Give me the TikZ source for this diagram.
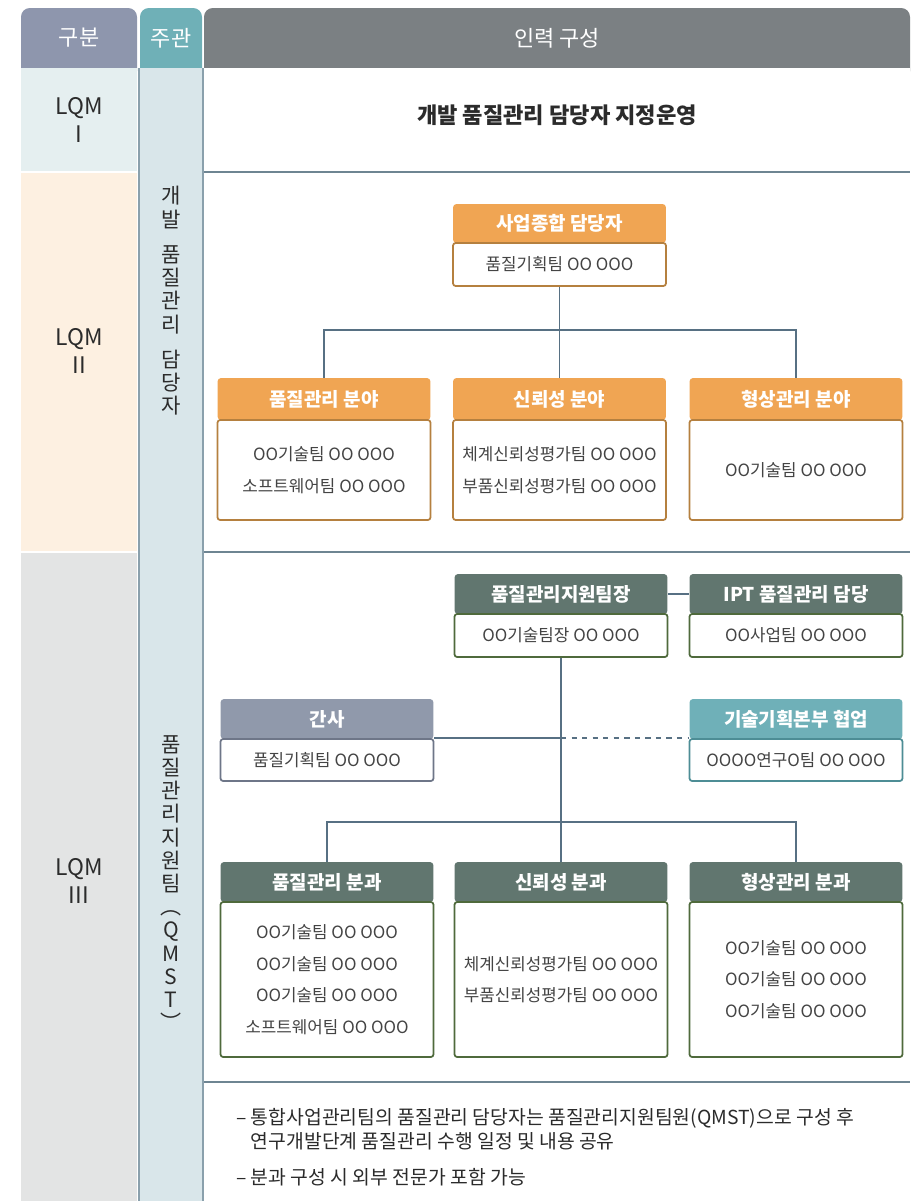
\documentclass[tikz,border=0pt]{standalone}
\usepackage{fontspec}
\setmainfont{Noto Sans CJK KR}
\usetikzlibrary{positioning}

\definecolor{hdslate}{HTML}{8E96AD}
\definecolor{hdteal}{HTML}{6FB0B7}
\definecolor{hdgray}{HTML}{7B8083}
\definecolor{rowone}{HTML}{E5EFF0}
\definecolor{rowtwo}{HTML}{FDF0E1}
\definecolor{rowthree}{HTML}{E3E4E4}
\definecolor{colmid}{HTML}{D9E6EA}
\definecolor{colline}{HTML}{8AA0AC}
\definecolor{rowline}{HTML}{6E8592}
\definecolor{lineblue}{HTML}{577083}
\definecolor{orangefill}{HTML}{F0A553}
\definecolor{orangeline}{HTML}{B5803F}
\definecolor{greenfill}{HTML}{61766F}
\definecolor{greenline}{HTML}{4F6A3C}
\definecolor{slatefill}{HTML}{9099AB}
\definecolor{slateline}{HTML}{6E7688}
\definecolor{tealfill}{HTML}{6FB0B8}
\definecolor{tealline}{HTML}{4D8D95}
\definecolor{bodytxt}{HTML}{444444}
\definecolor{darktxt}{HTML}{2B2B2B}

\tikzset{
  conn/.style={draw=lineblue, line width=0.9pt},
  orghead/.style={minimum width=4.26cm, inner sep=0pt, text=white,
    font=\fontsize{10.8}{12}\selectfont\bfseries, rounded corners=2pt},
  orgbody/.style={fill=white, minimum width=4.26cm, inner sep=0pt, line width=1pt,
    text=bodytxt, align=center, font=\fontsize{9.6}{18}\selectfont, rounded corners=1.5pt},
  tablehead/.style={text=white, font=\fontsize{12.5}{14}\selectfont},
  rowlabel/.style={text=darktxt, align=center, font=\fontsize{13}{16}\selectfont},
  stacktext/.style={text=darktxt, align=center, font=\fontsize{12}{13.2}\selectfont},
}

\begin{document}
\begin{tikzpicture}[x=0.02cm,y=-0.02cm]
\useasboundingbox (0,0) rectangle (918,1201);

% table header
\fill[hdslate,rounded corners=5pt] (21,8) rectangle (137,80);
\fill[hdteal,rounded corners=5pt] (140,8) rectangle (202,80);
\fill[hdgray,rounded corners=5pt] (204,8) rectangle (910,80);
\node[tablehead](head class) at (79,38) {구분};
\node[tablehead](head owner) at (171,38) {주관};
\node[tablehead](head staff) at (557,38) {인력 구성};

% rows
\fill[rowone] (21,68) rectangle (137,171);
\fill[rowtwo] (21,173) rectangle (137,551);
\fill[rowthree] (21,553) rectangle (137,1201);
\fill[colmid] (139,68) rectangle (203,1201);
\fill[white] (204,68) rectangle (910,1201);
\draw[colline,line width=0.9pt] (139,68) -- (139,1201);
\draw[colline,line width=0.9pt] (203,68) -- (203,1201);
\draw[rowline,line width=0.8pt] (204,172) -- (910,172);
\draw[rowline,line width=0.8pt] (204,552) -- (910,552);
\draw[rowline,line width=0.8pt] (204,1082) -- (910,1082);

\node[rowlabel](lqm one) at (79,120) {LQM\\I};
\node[rowlabel](lqm two) at (79,351) {LQM\\II};
\node[rowlabel](lqm three) at (79,881) {LQM\\III};

\node[stacktext](owner dev) at (171,301) {개\\발\\[7pt]품\\질\\관\\리\\[7pt]담\\당\\자};
\node[stacktext](owner qmst) at (171,883) {품\\질\\관\\리\\지\\원\\팀\\︵\\Q\\M\\S\\T\\︶};

% LQM I
\node[text=darktxt,font=\fontsize{12.6}{14}\selectfont\bfseries](dev title) at (557,115) {개발 품질관리 담당자 지정운영};

% LQM II
\node[orghead,fill=orangefill,minimum height=0.78cm](biz head) at (559.5,223.5) {사업종합 담당자};
\node[orgbody,draw=orangeline,minimum height=0.86cm](biz body) at (559.5,264.5) {품질기획팀 OO OOO};

\node[orghead,fill=orangefill,minimum height=0.84cm](qa head) at (324,399) {품질관리 분야};
\node[orgbody,draw=orangeline,minimum height=2cm](qa body) at (324,470) {OO기술팀 OO OOO\\소프트웨어팀 OO OOO};

\node[orghead,fill=orangefill,minimum height=0.84cm](rel head) at (559.5,399) {신뢰성 분야};
\node[orgbody,draw=orangeline,minimum height=2cm](rel body) at (559.5,470) {체계신뢰성평가팀 OO OOO\\부품신뢰성평가팀 OO OOO};

\node[orghead,fill=orangefill,minimum height=0.84cm](cm head) at (796,399) {형상관리 분야};
\node[orgbody,draw=orangeline,minimum height=2cm](cm body) at (796,470) {OO기술팀 OO OOO};

\draw[conn] (biz body.south) -- (559.5,330) coordinate (bus two);
\draw[conn] (qa head.north) |- (bus two) -| (cm head.north);
\draw[conn] (bus two) -- (rel head.north);

% LQM III
\node[orghead,fill=greenfill,minimum height=0.8cm](lead head) at (561,594) {품질관리지원팀장};
\node[orgbody,draw=greenline,minimum height=0.86cm](lead body) at (561,635.5) {OO기술팀장 OO OOO};

\node[orghead,fill=greenfill,minimum height=0.8cm](ipt head) at (796,594) {IPT 품질관리 담당};
\node[orgbody,draw=greenline,minimum height=0.86cm](ipt body) at (796,635.5) {OO사업팀 OO OOO};

\node[orghead,fill=slatefill,minimum height=0.8cm](sec head) at (327,719) {간사};
\node[orgbody,draw=slateline,minimum height=0.84cm](sec body) at (327,760) {품질기획팀 OO OOO};

\node[orghead,fill=tealfill,minimum height=0.8cm](tech head) at (796,719) {기술기획본부 협업};
\node[orgbody,draw=tealline,minimum height=0.84cm](tech body) at (796,760) {OOOO연구O팀 OO OOO};

\node[orghead,fill=greenfill,minimum height=0.8cm](qg head) at (327,882) {품질관리 분과};
\node[orgbody,draw=greenline,minimum height=3.1cm](qg body) at (327,979.5) {OO기술팀 OO OOO\\OO기술팀 OO OOO\\OO기술팀 OO OOO\\소프트웨어팀 OO OOO};

\node[orghead,fill=greenfill,minimum height=0.8cm](rg head) at (561,882) {신뢰성 분과};
\node[orgbody,draw=greenline,minimum height=3.1cm](rg body) at (561,979.5) {체계신뢰성평가팀 OO OOO\\부품신뢰성평가팀 OO OOO};

\node[orghead,fill=greenfill,minimum height=0.8cm](cg head) at (796,882) {형상관리 분과};
\node[orgbody,draw=greenline,minimum height=3.1cm](cg body) at (796,979.5) {OO기술팀 OO OOO\\OO기술팀 OO OOO\\OO기술팀 OO OOO};

\draw[conn] (lead head.east) -- (ipt head.west);
\draw[conn] (lead body.south) -- (561,822) coordinate (bus three);
\draw[conn] (sec body.north east) -- (lead body.south |- sec body.north east) coordinate (link mid);
\draw[conn,dashed] (link mid) -- (tech body.north west);
\draw[conn] (qg head.north) |- (bus three) -| (cg head.north);
\draw[conn] (bus three) -- (rg head.north);

% notes
\node[anchor=north west,text=darktxt,align=left,font=\fontsize{11}{14}\selectfont](note one) at (230,1102) {– 통합사업관리팀의 품질관리 담당자는 품질관리지원팀원(QMST)으로 구성 후\\\phantom{– }연구개발단계 품질관리 수행 일정 및 내용 공유};
\node[anchor=north west,text=darktxt,font=\fontsize{11}{14}\selectfont](note two) at (230,1162) {– 분과 구성 시 외부 전문가 포함 가능};

\end{tikzpicture}
\end{document}
